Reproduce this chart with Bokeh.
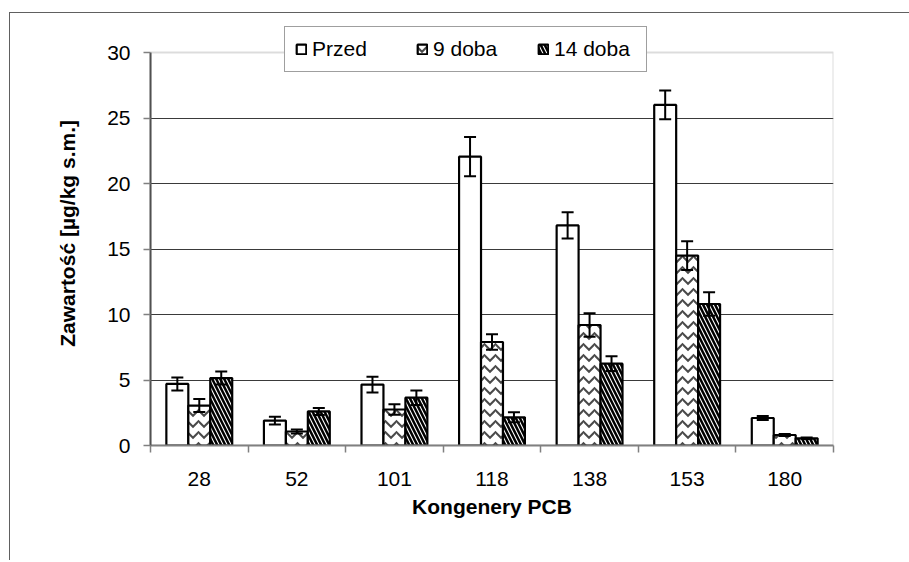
import numpy as np
from bokeh.plotting import figure
from bokeh.models import (ColumnDataSource, Whisker, TeeHead, FixedTicker,
                          Legend, LegendItem, BoxAnnotation)
from bokeh.embed import file_html
from bokeh.resources import INLINE

categories = ["28", "52", "101", "118", "138", "153", "180"]
series_names = ["Przed", "9 doba", "14 doba"]
przed = [4.70, 1.90, 4.65, 22.05, 16.80, 26.00, 2.10]
przed_err = [0.50, 0.30, 0.60, 1.50, 1.00, 1.10, 0.15]
doba9 = [3.05, 1.07, 2.75, 7.90, 9.20, 14.50, 0.80]
doba9_err = [0.50, 0.15, 0.40, 0.60, 0.90, 1.10, 0.08]
doba14 = [5.15, 2.60, 3.65, 2.15, 6.25, 10.80, 0.55]
doba14_err = [0.50, 0.27, 0.55, 0.38, 0.57, 0.90, 0.06]
y_ticks = [0, 5, 10, 15, 20, 25, 30]

FONT = "Liberation Sans"
n = len(categories)
centers = np.arange(n) + 0.5
bar_w = 0.225
offsets = [-bar_w, 0.0, bar_w]
y_max = y_ticks[-1]
# frame extends above the value area so the legend can overlap its top edge
frame_h, value_h = 430, 393
y_top = y_max * frame_h / value_h

frame_css = ("linear-gradient(#606060,#606060) 9px 12px/1px 2000px no-repeat, "
             "linear-gradient(#606060,#606060) 9px 12px/2000px 1px no-repeat, white")

p = figure(width=909, height=560, x_range=(0, n), y_range=(0, y_top),
           output_backend="svg", toolbar_location=None,
           min_border_left=150, min_border_right=76,
           min_border_top=15, min_border_bottom=115,
           styles={"background": frame_css})
p.background_fill_color = "white"
p.border_fill_color = None
p.outline_line_color = None

# plot-area border (value area 0..30)
area = BoxAnnotation(left=0, right=n, bottom=0, top=y_max, level="underlay",
                     fill_alpha=0, line_color="#8a8a8a", line_width=2)
p.add_layout(area)

# axes
p.xaxis.ticker = FixedTicker(ticks=list(centers), minor_ticks=list(range(n + 1)))
p.xaxis.major_label_overrides = {float(c): lab for c, lab in zip(centers, categories)}
p.xaxis.major_tick_out = 0
p.xaxis.major_tick_in = 0
p.xaxis.minor_tick_out = 7
p.xaxis.minor_tick_in = 0
p.xaxis.minor_tick_line_color = "#808080"
p.xaxis.minor_tick_line_width = 1.5
p.xaxis.axis_line_color = "#808080"
p.xaxis.axis_line_width = 2
p.xaxis.major_label_standoff = 19
p.xaxis.axis_label = "Kongenery PCB"
p.xaxis.axis_label_standoff = 6

p.yaxis.ticker = FixedTicker(ticks=y_ticks)
p.yaxis.bounds = (0, y_max)
p.yaxis.minor_tick_line_color = None
p.yaxis.major_tick_out = 7
p.yaxis.major_tick_in = 0
p.yaxis.major_tick_line_color = "#808080"
p.yaxis.major_tick_line_width = 1.5
p.yaxis.axis_line_color = "#505050"
p.yaxis.axis_line_width = 2
p.yaxis.major_label_standoff = 13
p.yaxis.axis_label = "Zawartość  [µg/kg s.m.]"
p.yaxis.axis_label_standoff = 25

for ax in (p.xaxis, p.yaxis):
    ax.major_label_text_font = FONT
    ax.major_label_text_font_size = "21px"
    ax.major_label_text_color = "black"
    ax.axis_label_text_font = FONT
    ax.axis_label_text_font_size = "21px"
    ax.axis_label_text_font_style = "bold"
    ax.axis_label_text_color = "black"

p.xgrid.grid_line_color = None
p.ygrid.ticker = FixedTicker(ticks=y_ticks[1:-1])
p.ygrid.grid_line_color = "#3a3a3a"
p.ygrid.grid_line_width = 1

# bars
vals = [przed, doba9, doba14]
errs = [przed_err, doba9_err, doba14_err]
styles = [
    dict(),
    dict(hatch_pattern="v", hatch_color="#4a4a4a", hatch_scale=11, hatch_weight=2),
    dict(hatch_pattern="\\", hatch_color="black", hatch_scale=8, hatch_weight=2.5),
]
renderers = []
for name, v, e, off, st in zip(series_names, vals, errs, offsets, styles):
    v = np.array(v)
    e = np.array(e)
    src = ColumnDataSource(dict(x=centers + off, top=v, upper=v + e, lower=v - e))
    r = p.vbar(x="x", top="top", bottom=0, width=bar_w, source=src,
               fill_color="white", line_color="black", line_width=2.2, **st)
    renderers.append(r)
    w = Whisker(base="x", upper="upper", lower="lower", source=src,
                level="annotation",
                line_color="black", line_width=2,
                upper_head=TeeHead(size=12, line_color="black", line_width=2),
                lower_head=TeeHead(size=12, line_color="black", line_width=2))
    p.add_layout(w)

legend = Legend(items=[LegendItem(label=nm, renderers=[r]) for nm, r in zip(series_names, renderers)],
                orientation="horizontal", location=(134, 373),
                glyph_width=12, glyph_height=12, label_standoff=5,
                label_width=82, spacing=22, padding=10, margin=0,
                label_text_font=FONT, label_text_font_size="21px",
                label_text_color="black",
                border_line_color="#404040", border_line_width=1,
                background_fill_color="white", background_fill_alpha=1)
p.add_layout(legend)

open("out.html", "w").write(file_html(p, INLINE))
